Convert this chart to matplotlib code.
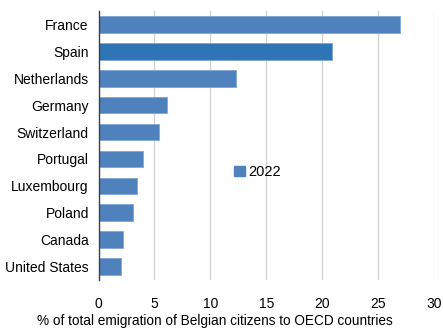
import matplotlib
matplotlib.use("Agg")
import matplotlib.pyplot as plt
from matplotlib.patches import Patch

countries = ["France", "Spain", "Netherlands", "Germany", "Switzerland",
             "Portugal", "Luxembourg", "Poland", "Canada", "United States"]
values = [27.0, 20.9, 12.3, 6.1, 5.4, 4.0, 3.4, 3.05, 2.2, 2.05]
highlight = "Spain"
year_label = "2022"

base_color = "#4F81BD"
hl_color = "#2E75B6"

plt.rcParams["font.family"] = ["Liberation Sans", "DejaVu Sans"]

fig = plt.figure(figsize=(4.43, 3.31), dpi=100)
ax = fig.add_axes([98.5 / 443, 1 - 280 / 331, (434 - 98.5) / 443, 269 / 331])

ypos = list(range(len(countries)))
colors = [hl_color if c == highlight else base_color for c in countries]
ax.barh(ypos, values, height=0.62, color=colors, edgecolor="#7FA7D6",
        linewidth=0.6, zorder=3)

ax.set_ylim(len(countries) - 0.5, -0.5)
ax.set_yticks(ypos)
ax.set_yticklabels(countries, fontsize=10)
ax.set_xlim(0, 30)
ax.set_xticks([0, 5, 10, 15, 20, 25, 30])
ax.tick_params(axis="both", length=0, labelsize=10, colors="#000000")
ax.tick_params(axis="x", pad=12)
ax.tick_params(axis="y", pad=7)
ax.grid(axis="x", color="#D0D0D0", linewidth=0.9, zorder=0)
for side in ["top", "right", "bottom"]:
    ax.spines[side].set_visible(False)
ax.spines["left"].set_color("#404040")
ax.spines["left"].set_linewidth(1.0)
ax.spines["left"].set_zorder(4)

ax.set_xlabel("% of total emigration of Belgian citizens to OECD countries",
              fontsize=9.8)
ax.xaxis.set_label_coords((215 - 98.5) / 335.5, -0.125)

handle = Patch(facecolor=base_color, edgecolor=base_color)
ax.legend([handle], [year_label], loc="center left",
          bbox_to_anchor=(0.366, 0.40), frameon=False, fontsize=10.5,
          handlelength=0.7, handleheight=0.7, handletextpad=0.25)

fig.savefig("out.png", dpi=100)
